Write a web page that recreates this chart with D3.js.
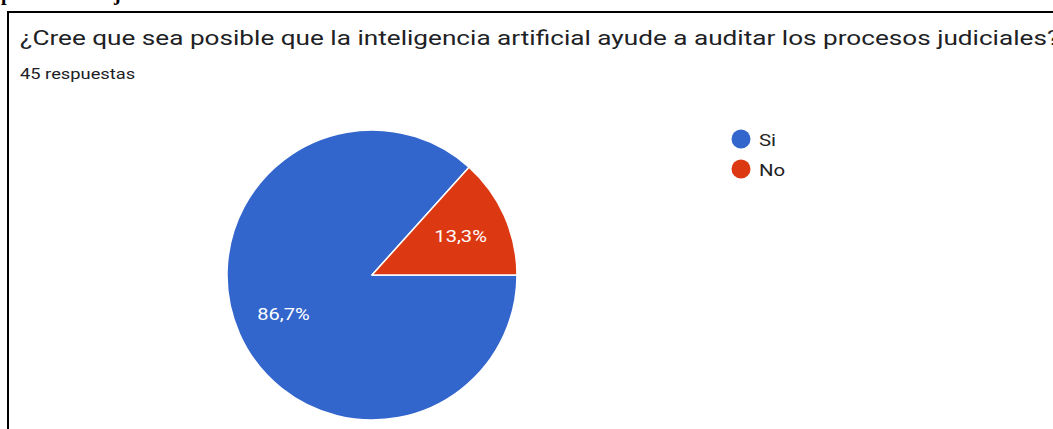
<!DOCTYPE html>
<html>
<head>
<meta charset="utf-8">
<script src="https://cdn.jsdelivr.net/npm/d3@7/dist/d3.min.js"></script>
<style>
  html, body { margin: 0; padding: 0; background: #fff; overflow: hidden; }
  text { font-family: Roboto, "Noto Sans", sans-serif; }
</style>
</head>
<body>
<svg id="chart" width="1053" height="429"></svg>
<script>
// datos
const titulo = '¿Cree que sea posible que la inteligencia artificial ayude a auditar los procesos judiciales?';
const subtitulo = '45 respuestas';
const categorias = ['Si', 'No'];
const respuestas = [39, 6];
const colores = ['#3366cc', '#dc3912'];

const svg = d3.select('#chart');
const width = +svg.attr('width');
const height = +svg.attr('height');

// la captura original esta un poco estirada a lo ancho
const ancho = function(sel, sx) {
    sel.each(function() {
        const w = this.getComputedTextLength();
        d3.select(this)
            .attr('textLength', w * sx)
            .attr('lengthAdjust', 'spacingAndGlyphs');
    });
};

// restos del texto del documento cortado arriba
svg.append('text')
    .attr('x', 1).attr('y', 0)
    .style('font-family', '"Liberation Serif", serif')
    .style('font-weight', 'bold')
    .style('font-size', '20px')
    .attr('fill', '#000')
    .text('p');
svg.append('text')
    .attr('x', 114).attr('y', 0)
    .style('font-family', '"Liberation Serif", serif')
    .style('font-weight', 'bold')
    .style('font-size', '20px')
    .attr('fill', '#000')
    .text('j');

// marco
svg.append('path')
    .attr('d', `M8,${height + 2}V12H${width + 2}`)
    .attr('fill', 'none')
    .attr('stroke', '#000')
    .attr('stroke-width', 2);

svg.append('text')
    .attr('x', 20).attr('y', 44.5)
    .attr('fill', '#202124')
    .style('font-size', '21px')
    .text(titulo)
    .call(ancho, 1.245);

svg.append('text')
    .attr('x', 20).attr('y', 78.5)
    .attr('fill', '#202124')
    .style('font-size', '15px')
    .text(subtitulo)
    .call(ancho, 1.22);

const cx = 372, cy = 275, radius = 145;

const pie = d3.pie()
    .sort(null)
    .startAngle(Math.PI / 2)
    .endAngle(Math.PI / 2 + 2 * Math.PI);

const arcs = pie(respuestas);
const arc = d3.arc().innerRadius(0).outerRadius(radius);
const labelArc = d3.arc().innerRadius(97).outerRadius(97);
const total = d3.sum(respuestas);

const g = svg.append('g').attr('transform', `translate(${cx},${cy})`);

g.selectAll('path')
    .data(arcs)
    .enter()
    .append('path')
    .attr('d', arc)
    .attr('fill', (d, i) => colores[i])
    .attr('stroke', '#fff')
    .attr('stroke-width', 1.5)
    .attr('stroke-linejoin', 'round');

g.selectAll('text.pct')
    .data(arcs)
    .enter()
    .append('text')
    .attr('class', 'pct')
    .attr('x', d => labelArc.centroid(d)[0])
    .attr('y', d => labelArc.centroid(d)[1] + 6)
    .attr('text-anchor', 'middle')
    .attr('fill', '#fff')
    .style('font-size', '17px')
    .text(d => (d.value / total * 100).toFixed(1).replace('.', ',') + '%')
    .call(ancho, 1.18);

// leyenda
const legend = svg.append('g').attr('transform', 'translate(741,139)');
const items = legend.selectAll('g')
    .data(categorias)
    .enter()
    .append('g')
    .attr('transform', (d, i) => `translate(0,${i * 30})`);
items.append('circle')
    .attr('r', 9.5)
    .attr('fill', (d, i) => colores[i]);
items.append('text')
    .attr('x', 18).attr('y', 6.5)
    .attr('fill', '#222')
    .style('font-size', '17px')
    .text(d => d)
    .call(ancho, 1.2);
</script>
</body>
</html>
